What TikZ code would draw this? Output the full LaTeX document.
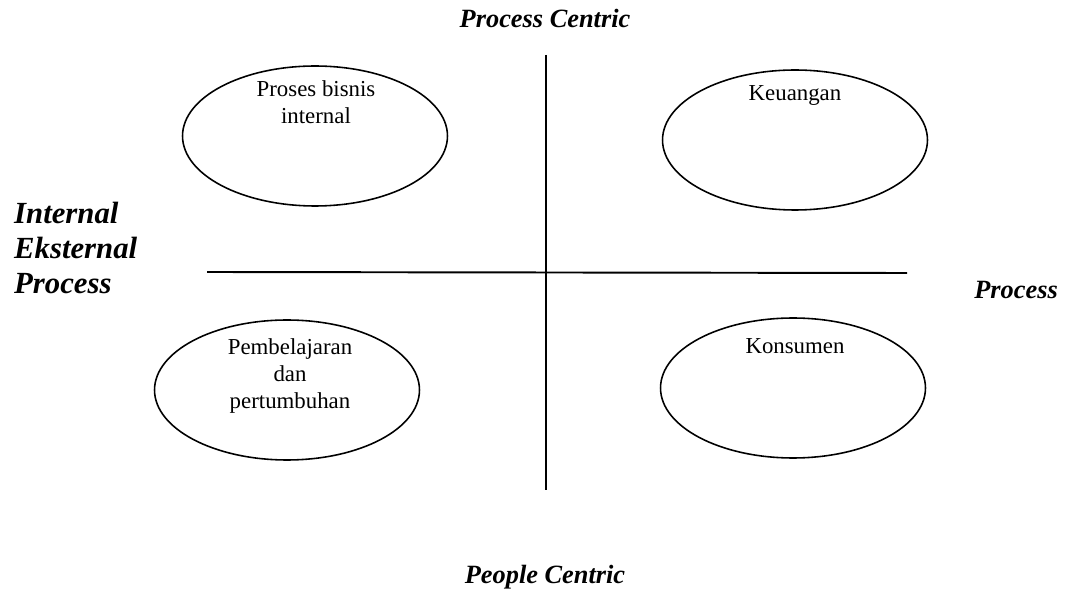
\documentclass[tikz,border=0pt]{standalone}
\usepackage{fontspec}
\setmainfont{Liberation Serif}
\usetikzlibrary{shapes.geometric}
\begin{document}
\begin{tikzpicture}[x=0.02cm,y=-0.02cm,
  axisline/.style={line width=1.1pt},
  perspective/.style={draw, line width=0.9pt, ellipse, minimum width=5.3cm, minimum height=2.8cm, inner sep=0pt},
  persplabel/.style={font=\fontsize{13}{15.5}\selectfont, align=center},
  axislabel/.style={font=\fontsize{15}{20}\selectfont\bfseries\itshape},
  sidelabel/.style={font=\fontsize{17.5}{19.8}\selectfont\bfseries\itshape}]
\useasboundingbox (0,0) rectangle (1068,597);

% axes
\coordinate (vtop) at (546,55);
\coordinate (vbot) at (546,490);
\coordinate (hleft) at (207,272);
\coordinate (hright) at (907,273);
\draw[axisline] (vtop) -- (vbot);
\draw[axisline] (hleft) -- (hright);

% the four perspectives
\node[perspective] (internal) at (315,136) {};
\node[perspective] (finance) at (795,140) {};
\node[perspective] (learning) at (287,390) {};
\node[perspective] (customer) at (793,388) {};

\node[persplabel, anchor=north] (internalT) at (316,74) {Proses bisnis\\internal};
\node[persplabel, anchor=north] (financeT) at (795,79) {Keuangan};
\node[persplabel, anchor=north] (learningT) at (290,332) {Pembelajaran\\dan\\pertumbuhan};
\node[persplabel, anchor=north] (customerT) at (795,332) {Konsumen};

% axis labels
\node[axislabel] (top) at (545,18) {Process Centric};
\node[axislabel] (bottom) at (545,577) {People Centric};
\node[sidelabel, anchor=west, align=left] (left) at (8,248) {Internal\\Eksternal\\Process};
\node[axislabel, anchor=east] (right) at (1064,290) {Process};
\end{tikzpicture}
\end{document}
